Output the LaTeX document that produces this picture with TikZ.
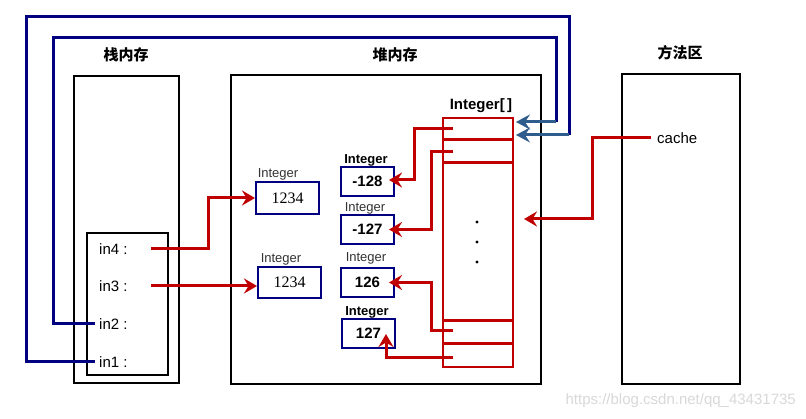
\documentclass[tikz,border=0pt]{standalone}
\usepackage{fontspec}
\setmainfont{Liberation Sans}
\newfontfamily\cjk{Noto Sans CJK SC}
\newfontfamily\serifnum{Liberation Serif}
\usetikzlibrary{arrows.meta}
\definecolor{rd}{HTML}{C00000}
\definecolor{nv}{HTML}{000080}
\definecolor{sb}{HTML}{2E5C8C}
\tikzset{
  blk/.style={draw=black, line width=2pt},
  nbox/.style={draw=nv, line width=2pt, minimum width=#1, inner sep=0pt},
  redarr/.style={draw=rd, line width=3pt, -{Stealth[length=13pt,width=15pt,inset=4.5pt]}},
  bluln/.style={draw=nv, line width=3pt},
  bluarr/.style={draw=sb, line width=3pt, -{Stealth[length=14pt,width=15pt,inset=5pt]}},
  lbl/.style={inner sep=0pt, font=\fontsize{15}{18}\selectfont},
  ilbl/.style={inner sep=0pt, font=\fontsize{13}{15}\selectfont, text=black!80},
  ilblb/.style={inner sep=0pt, font=\fontsize{13}{15}\selectfont\bfseries},
  cn/.style={inner sep=0pt, font=\cjk\fontsize{15}{18}\selectfont\bfseries},
  numb/.style={font=\fontsize{15}{18}\selectfont\bfseries},
  nums/.style={font=\serifnum\fontsize{16}{18}\selectfont}
}
\begin{document}
\begin{tikzpicture}[x=1pt,y=-1pt]
\useasboundingbox[fill=white] (0,0) rectangle (806,419);

% section boxes
\node[blk, minimum width=105pt, minimum height=307pt, inner sep=0pt] (stack) at (126.5,229.5) {};
\node[blk, minimum width=81pt, minimum height=142pt, inner sep=0pt] (sinner) at (127.5,304) {};
\node[blk, minimum width=310pt, minimum height=309pt, inner sep=0pt] (heap) at (386,229.5) {};
\node[blk, minimum width=118pt, minimum height=310pt, inner sep=0pt] (meth) at (681,229) {};

\node[cn] (tstack) at (126,55) {栈内存};
\node[cn] (theap) at (395,55) {堆内存};
\node[cn] (tmeth) at (680,53) {方法区};

% stack variables
\node[lbl, anchor=west] (in4) at (99,249) {in4 :};
\node[lbl, anchor=west] (in3) at (99,286) {in3 :};
\node[lbl, anchor=west] (in2) at (99,324) {in2 :};
\node[lbl, anchor=west] (in1) at (99,362) {in1 :};

% Integer objects
\node[nbox=63pt, minimum height=32pt, nums] (i1) at (287.5,198) {1234};
\node[ilbl] (li1) at (278,174) {Integer};
\node[nbox=63pt, minimum height=31pt, nums] (i2) at (289.5,282.5) {1234};
\node[ilbl] (li2) at (281,259) {Integer};

\node[nbox=53pt, minimum height=29pt, numb] (n128) at (367.5,181.5) {-128};
\node[ilblb] (l128) at (366,160) {Integer};
\node[nbox=53pt, minimum height=29pt, numb] (n127m) at (367.5,229.5) {-127};
\node[ilbl] (l127m) at (365,208) {Integer};
\node[nbox=53pt, minimum height=29pt, numb] (n126) at (367.5,282.5) {126};
\node[ilbl] (l126) at (366,258) {Integer};
\node[nbox=53pt, minimum height=29pt, numb] (n127) at (368.5,333.5) {127\hspace{5pt}};
\node[ilblb] (l127) at (367,312) {Integer};

% Integer[] array
\node[draw=rd, line width=2pt, minimum width=70pt, minimum height=249pt, inner sep=0pt] (arr) at (478,242.5) {};
\node[inner sep=0pt, font=\fontsize{15}{18}\selectfont\bfseries] (larr) at (481,106) {Integer[\,]};
\draw[rd, line width=3pt] (443,140) -- (513,140);
\draw[rd, line width=3pt] (443,163) -- (513,163);
\draw[rd, line width=3pt] (443,321) -- (513,321);
\draw[rd, line width=3pt] (443,344) -- (513,344);
\fill (477,222) circle (1.6pt);
\fill (477,242) circle (1.6pt);
\fill (477,262) circle (1.6pt);

% cache
\node[lbl, anchor=west] (cache) at (657,138) {cache};

% coordinates
\coordinate (s4) at (151,249);
\coordinate (s3) at (151,286);
\coordinate (b2) at (95,324);
\coordinate (b1) at (95,362);
\coordinate (bt2) at (516,122);
\coordinate (bt1) at (516,135);
\coordinate (a1) at (453,129);
\coordinate (a2) at (453,152);
\coordinate (a3) at (453,331);
\coordinate (a4) at (453,358);
\coordinate (c0) at (651,138);
\coordinate (ct) at (524,219);

% red references
\draw[redarr] (s4) -- (208,249) |- (i1.west);
\draw[redarr] (s3) -- (i2.west |- s3);
\draw[redarr, shorten >=-6pt] (a1) -- (414,129) |- ([yshift=1.5]n128.east);
\draw[redarr, shorten >=-6pt] (a2) -- (431,152) |- (n127m.east);
\draw[redarr, shorten >=-6pt] (a3) -- (431,331) |- (n126.east);
\draw[redarr, shorten >=-15pt] (a4) -| ([xshift=17.5]n127.south);
\draw[redarr] (c0) -- (592,138) |- (ct);

% blue references
\draw[bluln, line join=miter] (b2) -- (53,324) -- (53,38) -- (556,38) -- (556,122);
\draw[bluarr] (556,122) -- (bt2);
\draw[bluln, line join=miter] (b1) -- (26,362) -- (26,17) -- (569,17) -- (569,135);
\draw[bluarr] (569,135) -- (bt1);

% watermark
\node[inner sep=0pt, anchor=east, text=black!15, font=\fontsize{15}{18}\selectfont] (wm) at (796,401) {https://blog.csdn.net/qq\_43431735};
\end{tikzpicture}
\end{document}
